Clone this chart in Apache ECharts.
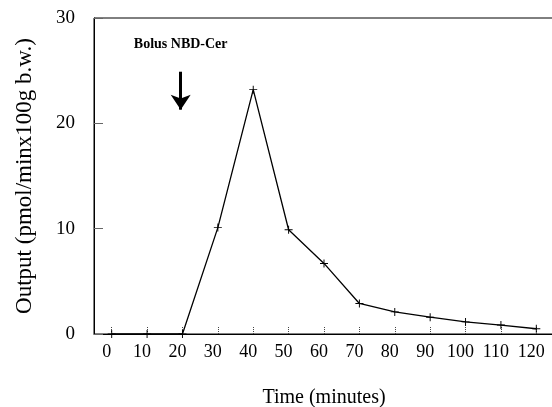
<!DOCTYPE html>
<html><head><meta charset="utf-8">
<script src="https://cdn.jsdelivr.net/npm/echarts@6/dist/echarts.min.js"></script>
<style>html,body{margin:0;padding:0;background:#fff}#c{width:552px;height:407px}</style>
</head><body><div id="c"></div>
<script>
// ---- data ----
const timeMinutes  = [0, 10, 20, 30, 40, 50, 60, 70, 80, 90, 100, 110, 120];
const outputValues = [0, 0, 0, 10.1, 23.2, 9.9, 6.7, 2.9, 2.1, 1.6, 1.15, 0.85, 0.5];
const xTickLabels  = [0, 10, 20, 30, 40, 50, 60, 70, 80, 90, 100, 110, 120];
const yTickLabels  = [0, 10, 20, 30];
const bolusLabel   = 'Bolus NBD-Cer';
const bolusTime    = 19.5;
const bolusArrow   = [24.9, 21.3];   // arrow from / to (output units)
const bolusTextAt  = 27.5;

const FONT = 'Liberation Serif';
const plus = 'path://M4.4,0h1.2v4.4h4.4v1.2h-4.4v4.4h-1.2v-4.4h-4.4v-1.2h4.4z';

const chart = echarts.init(document.getElementById('c'), null, {renderer: 'canvas'});
chart.setOption({
  animation: false,
  backgroundColor: '#fff',
  grid: {left: 94, right: -2, top: 18, bottom: 73, outerBoundsMode: 'none', containLabel: false,
         show: true, borderColor: '#000', borderWidth: 1, backgroundColor: 'transparent'},
  xAxis: {
    type: 'value', min: -5, max: 125,
    name: 'Time (minutes)', nameLocation: 'middle', nameGap: 54,
    nameTextStyle: {fontFamily: FONT, fontSize: 20, color: '#000'},
    axisLine: {show: true, onZero: false, lineStyle: {color: '#000', width: 1}},
    axisTick: {show: true, inside: true, length: 7, customValues: xTickLabels, lineStyle: {color: '#444', type: 'dotted', width: 1}},
    axisLabel: {customValues: xTickLabels, margin: 9, padding: [0, 10, 0, 0], fontFamily: FONT, fontSize: 18, color: '#000'},
    splitLine: {show: false}
  },
  yAxis: {
    type: 'value', min: 0, max: 30, interval: 10,
    name: 'Output (pmol/minx100g b.w.)', nameLocation: 'middle', nameGap: 58,
    nameTextStyle: {fontFamily: FONT, fontSize: 23, color: '#000'},
    axisLine: {show: true, onZero: false, lineStyle: {color: '#000', width: 1}},
    axisTick: {show: true, inside: true, length: 9, lineStyle: {color: '#666'}},
    axisLabel: {margin: 19, fontFamily: FONT, fontSize: 19, color: '#000',
      formatter: v => yTickLabels.indexOf(v) >= 0 ? String(v) : ''},
    splitLine: {show: false}
  },
  series: [{
    type: 'line',
    data: timeMinutes.map((t, i) => [t, outputValues[i]]),
    symbol: plus, symbolSize: 8, showSymbol: true,
    itemStyle: {color: '#000'},
    lineStyle: {color: '#000', width: 1.3},
    silent: true,
    markLine: {
      silent: true, animation: false,
      symbol: ['none', 'arrow'], symbolSize: 15,
      label: {show: false},
      lineStyle: {color: '#000', width: 3, type: 'solid'},
      emphasis: {disabled: true},
      data: [[{coord: [bolusTime, bolusArrow[0]]}, {coord: [bolusTime, bolusArrow[1]]}]]
    },
    markPoint: {
      silent: true, animation: false,
      symbol: 'circle', symbolSize: 1, itemStyle: {color: 'rgba(0,0,0,0)'},
      label: {show: true, position: 'inside', formatter: bolusLabel, fontFamily: FONT, fontSize: 14, fontWeight: 'bold', color: '#000'},
      data: [{coord: [bolusTime, bolusTextAt]}]
    }
  }]
});
</script></body></html>
